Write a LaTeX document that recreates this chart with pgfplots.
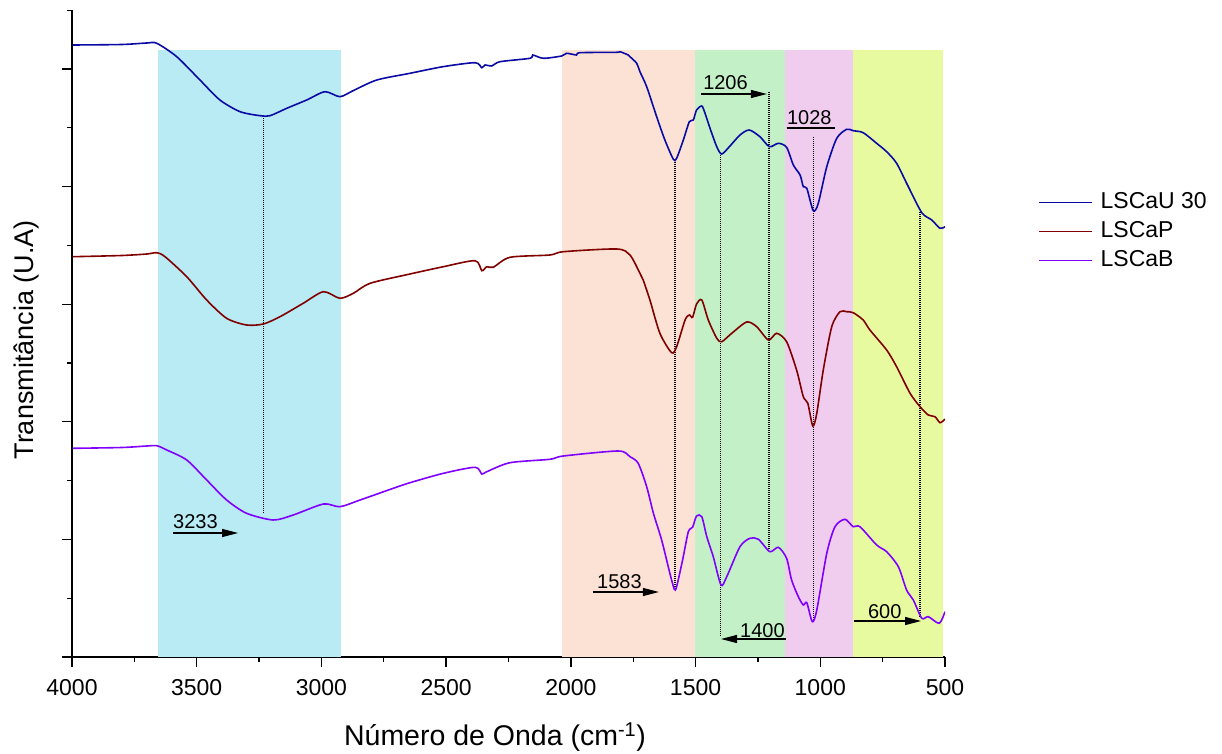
\documentclass[border=0pt]{standalone}
\usepackage{fontspec}
\setmainfont{Liberation Sans}
\usepackage{pgfplots}
\pgfplotsset{compat=1.18}
\usetikzlibrary{arrows.meta}
\definecolor{bandcyan}{RGB}{185,235,245}
\definecolor{bandpeach}{RGB}{251,226,213}
\definecolor{bandgreen}{RGB}{195,240,198}
\definecolor{bandpink}{RGB}{240,205,238}
\definecolor{bandyellow}{RGB}{232,250,160}
\definecolor{cblue}{RGB}{10,10,165}
\definecolor{cred}{RGB}{128,0,0}
\definecolor{cviolet}{RGB}{128,0,255}
\begin{document}
\begin{tikzpicture}
\begin{axis}[
  at={(0pt,0pt)}, anchor=south west,
  scale only axis, width=873pt, height=647pt,
  x dir=reverse, xmin=500, xmax=4000, ymin=0, ymax=647,
  axis x line*=bottom, axis y line*=left,
  axis line style={line width=1.3pt},
  xtick={500,1000,...,4000}, minor xtick={750,1250,...,3750},
  ytick={0,117.6,235.2,352.8,470.4,588},
  minor ytick={58.8,176.4,294,411.6,529.2,646.8},
  yticklabels={},
  tick align=outside,
  major tick length=10pt, minor tick length=5pt,
  every tick/.style={black, line width=1.3pt},
  tick label style={font=\fontsize{23}{27}\selectfont},
  /pgf/number format/assume math mode=true,
  /pgf/number format/1000 sep={},
  xticklabel style={anchor=north, yshift=-9pt},
  xlabel={Número de Onda (cm\textsuperscript{-1})},
  ylabel={Transmitância (U.A)},
  label style={font=\fontsize{27}{32}\selectfont},
  xlabel style={font=\fontsize{28.5}{33}\selectfont, at={(axis description cs:0.4845,-0.1236)}, anchor=center},
  ylabel style={at={(axis description cs:-0.0527,0.49)}, anchor=center, rotate=0},
  legend style={at={(axis description cs:1.103,0.726)}, anchor=north west,
    draw=none, fill=none, font=\fontsize{23}{27}\selectfont,
    nodes={inner sep=2pt, text height=17pt, text depth=5pt}, row sep=3pt},
  legend cell align=left,
  legend image code/.code={\draw[#1, line width=1.5pt] (0pt,0pt) -- (53pt,0pt); \path (59pt,0pt);},
]
% bands
\addplot[draw=none, fill=bandcyan, forget plot] coordinates {(3655,607) (2921,607)} \closedcycle;
\addplot[draw=none, fill=bandpeach, forget plot] coordinates {(2035,607) (1502,607)} \closedcycle;
\addplot[draw=none, fill=bandgreen, forget plot] coordinates {(1502,607) (1140,607)} \closedcycle;
\addplot[draw=none, fill=bandpink, forget plot] coordinates {(1140,607) (870,607)} \closedcycle;
\addplot[draw=none, fill=bandyellow, forget plot] coordinates {(870,607) (509,607)} \closedcycle;

% dotted guide lines
\begin{scope}[black, line width=1.3pt, dash pattern=on 1pt off 1pt]
\draw (axis cs:3233,541) -- (axis cs:3233,143);
\draw (axis cs:1583,497) -- (axis cs:1583,67);
\draw (axis cs:1400,504) -- (axis cs:1400,21);
\draw (axis cs:1206,565) -- (axis cs:1206,107);
\draw (axis cs:1028,520) -- (axis cs:1028,36);
\draw (axis cs:600,445) -- (axis cs:600,39);
\end{scope}

% LSCaU 30
\addplot[cblue, line width=1.6pt, smooth, tension=0.45] coordinates {
(3995,612) (3800,612.5) (3700,614) (3660,613.7) (3580,600.3) (3487,577) (3407,557) (3326,545.3) (3246,541.3)
(3206,541.3) (3139,548.7) (3059,557) (2986,565.3) (2926,560.3) (2873,566.3) (2778,577)
(2645,583.7) (2513,590.3) (2384,594.3) (2357,589.3) (2344,592) (2317,591) (2284,595.3)
(2164,598.7) (2153,602) (2110,598.7) (2037,601) (2017,603.7) (1977,602) (1963,604.3)
(1816,604.7) (1803,605.3) (1770,602) (1763,600.3) (1736,593.7) (1723,585.3) (1696,570.3)
(1656,540.3) (1623,517) (1589,497.7) (1576,498.7) (1549,517) (1525,535.3) (1509,537)
(1496,547) (1475,551) (1462,543.7) (1442,528.7) (1415,510.3) (1395,503) (1362,511)
(1322,522) (1285,527) (1242,520.3) (1204,510.3) (1168,513.7) (1135,509.7) (1108,492)
(1081,482) (1068,470.3) (1054,468.7) (1028,446.3) (1008,453.7) (974,490.3) (934,518.7)
(894,527.7) (868,526.3) (828,524.3) (774,513.7) (734,505.3) (694,493.7) (647,470.3)
(593,444.3) (553,437) (520,428.7) (500,430.3)
};
\addlegendentry{LSCaU 30}

% LSCaP
\addplot[cred, line width=1.6pt, smooth, tension=0.45] coordinates {
(3995,400.3) (3800,401.5) (3700,403) (3660,404.3) (3627,400.3) (3540,380.3) (3460,357) (3380,338.7) (3300,332)
(3233,333) (3166,340.3) (3073,353.7) (2992,365.3) (2926,358.7) (2872,363.7) (2805,373.7)
(2645,383) (2511,390.3) (2384,396.3) (2357,386.3) (2337,390.3) (2311,389.7) (2244,399.7)
(2084,402) (2030,405.3) (1816,408) (1763,402) (1723,383.7) (1710,377) (1683,357)
(1643,323.7) (1596,304.3) (1576,310.3) (1542,337) (1525,342) (1512,339.7) (1496,353)
(1475,357) (1449,337) (1415,318.7) (1395,315.3) (1355,323.7) (1295,335) (1255,330.3)
(1208,317) (1175,323.7) (1135,315.3) (1095,287) (1068,260.3) (1050,253.7) (1030,231)
(1014,243.7) (988,287) (954,330.3) (921,345.3) (894,345.3) (868,344.3) (828,337)
(801,327) (734,307) (694,290.3) (640,263.7) (600,250.3) (567,242) (540,240.3)
(520,234.3) (500,238)
};
\addlegendentry{LSCaP}

% LSCaB
\addplot[cviolet, line width=1.6pt, smooth, tension=0.45] coordinates {
(3995,208.7) (3800,209.5) (3700,211) (3660,211.3) (3620,207) (3540,197) (3460,177) (3380,157) (3300,143.7)
(3193,137) (3113,142) (2992,153) (2926,150.3) (2845,157) (2712,168.7) (2645,174.3)
(2511,183.7) (2384,189.7) (2357,183) (2337,185.3) (2244,194.3) (2084,197.7) (2030,201)
(1810,206) (1763,200.3) (1730,193.7) (1696,170.3) (1669,143.7) (1636,117) (1603,83.7)
(1585,67.7) (1576,70.3) (1552,97) (1529,125.3) (1512,129.7) (1496,141) (1475,140.3)
(1455,120.3) (1429,100.3) (1398,72) (1375,80.3) (1322,110.3) (1282,118.7) (1248,117.7)
(1202,105.3) (1168,109.7) (1135,98.7) (1115,77) (1088,60.3) (1068,52) (1054,54.3)
(1032,35.3) (1014,47) (974,103.7) (941,130.3) (901,137.7) (868,130.3) (841,130.3)
(774,112) (734,105.3) (687,90.3) (654,67) (627,57) (593,38.7) (567,40.3) (523,33.7)
(500,45.3)
};
\addlegendentry{LSCaB}

% annotations
\begin{scope}[line width=1.2pt, black]
\draw[-{Triangle[length=16pt,width=8pt]}] (axis cs:3595,124) -- (axis cs:3334,124);
\draw[-{Triangle[length=16pt,width=8pt]}] (axis cs:1911,65) -- (axis cs:1647,65);
\draw[-{Triangle[length=16pt,width=8pt]}] (axis cs:1138,18) -- (axis cs:1398,18);
\draw[-{Triangle[length=16pt,width=8pt]}] (axis cs:865,36) -- (axis cs:596,36);
\draw[-{Triangle[length=16pt,width=8pt]}] (axis cs:1478,563) -- (axis cs:1214,563);
\draw (axis cs:1134,529) -- (axis cs:941,529);
\end{scope}
\begin{scope}[every node/.style={anchor=base west, inner sep=0pt, font=\fontsize{20}{24}\selectfont}]
\node at (axis cs:3595,129) {3233};
\node at (axis cs:1895,69) {1583};
\node at (axis cs:1322,20) {1400};
\node at (axis cs:809,39) {600};
\node at (axis cs:1470,567) {1206};
\node at (axis cs:1134,532) {1028};
\end{scope}
\end{axis}
\pgfresetboundingbox
\path[use as bounding box] (-72pt,-96pt) rectangle (1150pt,657pt);
\end{tikzpicture}
\end{document}
